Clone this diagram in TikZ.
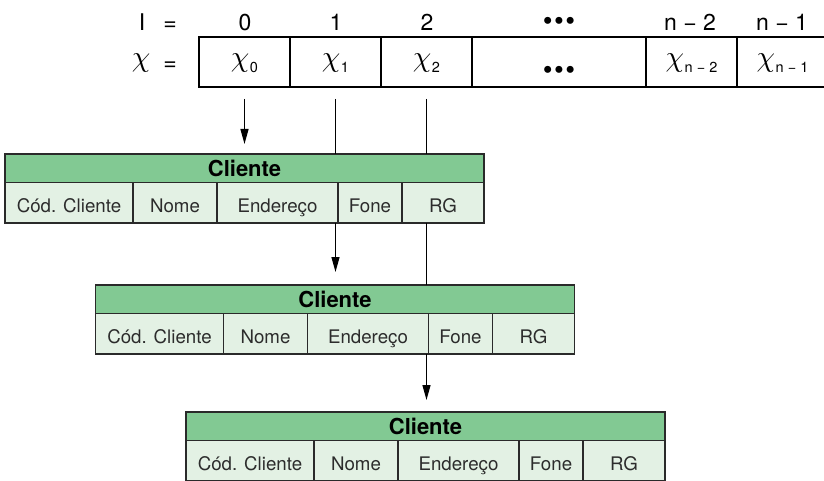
\documentclass[tikz,border=0pt]{standalone}
\usepackage{fontspec}
\usepackage{graphicx}
\setmainfont{TeX Gyre Heros}
\usetikzlibrary{arrows.meta}

\definecolor{hdrgreen}{HTML}{82C993}
\definecolor{fldgreen}{HTML}{E3F1E4}
\definecolor{edge}{HTML}{2A2A2A}
\definecolor{ink}{HTML}{2C2C2C}

% chi with a lowered index
\newcommand\chiglyph{\scalebox{2.95}{\fontsize{10}{10}\selectfont$\chi$}}
\newcommand\chisub[1]{\chiglyph\kern0.5pt\raisebox{-6pt}{\fontsize{14.5}{14.5}\selectfont #1}}
\newcommand\bigdots{{\fontsize{28}{28}\selectfont •\kern1.5pt•\kern1.5pt•}}

\tikzset{
  lbl/.style={inner sep=0pt, outer sep=0pt, anchor=base, font=\fontsize{23}{23}\selectfont},
  cell/.style={draw=black, line width=1.3pt, inner sep=0pt, outer sep=0pt,
    minimum height=50pt, anchor=north west, text height=9pt, text depth=0pt},
  hdr/.style={draw=edge, fill=hdrgreen, line width=1.3pt, inner sep=0pt, outer sep=0pt,
    minimum width=479pt, minimum height=28.5pt, anchor=north west,
    font=\bfseries\fontsize{22}{22}\selectfont, text height=15.8pt, text depth=0pt},
  fld/.style={draw=edge, fill=fldgreen, line width=1.3pt, inner sep=0pt, outer sep=0pt,
    minimum height=40.5pt, anchor=north west, text=ink,
    font=\fontsize{18.7}{18.7}\selectfont, text height=19pt, text depth=0pt},
  link/.style={line width=1.3pt, draw=black},
  arr/.style={link, -{Triangle[length=15pt, width=8pt]}},
}

% one "Cliente" record: #1 name prefix, #2/#3 top-left corner
\newcommand\clientetable[3]{%
  \node[hdr] (#1h) at (#2,#3) {Cliente};
  \node[fld, minimum width=128pt] (#1a) at (#1h.south west) {Cód. Cliente};
  \node[fld, minimum width=84pt]  (#1b) at (#1a.north east) {Nome};
  \node[fld, minimum width=121pt] (#1c) at (#1b.north east) {Endereço};
  \node[fld, minimum width=64pt]  (#1d) at (#1c.north east) {Fone};
  \node[fld, minimum width=82pt]  (#1e) at (#1d.north east) {RG};
}

\begin{document}
\begin{tikzpicture}[x=1pt, y=-1pt]
\useasboundingbox (0,0) rectangle (824,481);

% index row
\node[lbl] (iname) at (142,31) {I};
\node[lbl] (ieq)   at (170,31) {=};
\node[lbl] (i0) at (245,31) {0};
\node[lbl] (i1) at (336,31) {1};
\node[lbl] (i2) at (427,31) {2};
\node[lbl] (idots) at (559,31) {\bigdots};
\node[lbl] (in2) at (690,31) {n − 2};
\node[lbl] (in1) at (782,31) {n − 1};

% the array of chi cells
\node[lbl] (xname) at (141,66.6) {\chiglyph};
\node[lbl] (xeq)   at (170,70.6) {=};
\node[cell, minimum width=91pt]  (c0) at (199,37) {\chisub{0}};
\node[cell, minimum width=91pt]  (c1) at (c0.north east) {\chisub{1}};
\node[cell, minimum width=91pt]  (c2) at (c1.north east) {\chisub{2}};
\node[cell, minimum width=174pt] (c3) at (c2.north east) {\raisebox{-13pt}{\bigdots}};
\node[cell, minimum width=91pt]  (c4) at (c3.north east) {\chisub{n − 2}};
\node[cell, minimum width=91pt]  (c5) at (c4.north east) {\chisub{n − 1}};

% three chained records
\clientetable{ta}{5}{154}
\clientetable{tb}{95.5}{285}
\clientetable{tc}{186}{412}

% pointers
\draw[arr, shorten <=12pt, shorten >=10pt] (c0.south) -- (c0.south |- tah.north);
\draw[link, shorten <=12pt] (c1.south) -- (c1.south |- tah.north);
\draw[link, shorten <=12pt] (c2.south) -- (c2.south |- tah.north);

\draw[arr, shorten >=13pt] (c1.south |- taa.south) -- (c1.south |- tbh.north);
\draw[link] (c2.south |- taa.south) -- (c2.south |- tbh.north);

\draw[arr, shorten >=12pt] (c2.south |- tba.south) -- (c2.south |- tch.north);
\end{tikzpicture}
\end{document}
